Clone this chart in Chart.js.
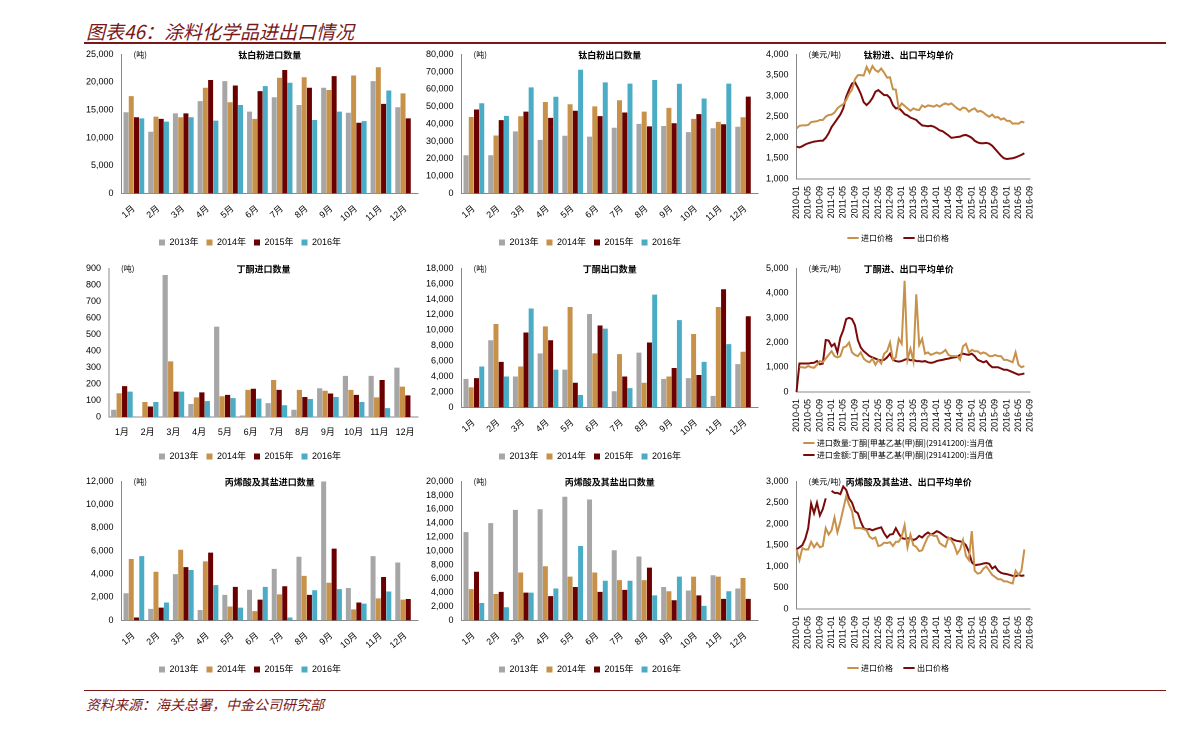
<!DOCTYPE html>
<html><head><meta charset="utf-8">
<script src="https://cdn.jsdelivr.net/npm/chart.js@4.4.0/dist/chart.umd.min.js"></script>
<style>
body{margin:0;background:#fff;width:1191px;height:733px;position:relative;overflow:hidden;font-family:"Liberation Sans","Noto Sans CJK SC",sans-serif}
.c{position:absolute}
#title{position:absolute;left:86px;top:17px;font-size:19px;font-style:italic;color:#7a1818;font-family:"Noto Sans CJK SC",sans-serif}
#l1{position:absolute;left:84px;top:42px;width:1082px;height:2px;background:#7a1818}
#l2{position:absolute;left:84px;top:690px;width:1082px;height:1px;background:#7a1818}
#src{position:absolute;left:86px;top:694px;font-size:14px;font-style:italic;color:#7a1818;font-family:"Noto Sans CJK SC",sans-serif}
</style></head><body>
<div id="title">图表46：涂料化学品进出口情况</div><div id="l1"></div>
<div id="l2"></div><div id="src">资料来源：海关总署，中金公司研究部</div>
<canvas id="p1" class="c"></canvas><canvas id="p2" class="c"></canvas><canvas id="p3" class="c"></canvas>
<canvas id="p4" class="c"></canvas><canvas id="p5" class="c"></canvas><canvas id="p6" class="c"></canvas>
<canvas id="p7" class="c"></canvas><canvas id="p8" class="c"></canvas><canvas id="p9" class="c"></canvas>
<script>
const months=['1月','2月','3月','4月','5月','6月','7月','8月','9月','10月','11月','12月'];
const years=['2013年','2014年','2015年','2016年'];
const barColors=['#a6a6a6','#c8914a','#6b0000','#4bacc6'];

const tio2Imp13=[14600,11100,14400,16600,20200,14700,17300,15900,19000,14500,20200,15500];
const tio2Imp14=[17500,13800,13700,19000,16400,13400,20800,20900,18600,21200,22700,18000];
const tio2Imp15=[13700,13400,14400,20400,19400,18400,22200,19000,21100,12700,16100,13500];
const tio2Imp16=[13500,12900,13700,13100,15900,19300,19900,13200,14700,13000,18500,null];

const tio2Exp13=[22000,22000,35700,30800,33200,32700,37800,40000,38800,35300,37500,38400];
const tio2Exp14=[44000,33300,44400,52600,51300,50100,53600,47100,49200,42900,41200,43800];
const tio2Exp15=[48300,42200,47100,43500,47600,44500,46600,38600,40400,45600,39800,55700];
const tio2Exp16=[51900,44600,61000,55600,71200,63900,63200,65300,63100,54600,63200,null];

const mekImp13=[45,5,860,80,548,10,85,45,175,250,250,300];
const mekImp14=[145,92,338,120,127,165,225,165,160,165,120,185];
const mekImp15=[188,65,155,150,135,172,165,122,143,135,225,132];
const mekImp16=[155,92,155,97,115,112,72,110,122,92,55,null];

const mekExp13=[3700,8700,4000,7000,4900,12100,2100,7100,3700,3800,1500,5600];
const mekExp14=[2600,10800,5300,10500,13000,7000,6900,3200,4000,9500,13000,7200];
const mekExp15=[3800,5900,9700,8700,3200,10600,4000,8400,5100,4200,15300,11800];
const mekExp16=[5300,4000,12800,4900,1600,10200,2500,14600,11300,5900,8200,null];

const acrImp13=[2350,1000,4000,900,2200,2650,4450,5500,12000,2800,5550,5000];
const acrImp14=[5300,4200,6100,5100,1200,800,2250,3850,3250,950,1900,1800];
const acrImp15=[250,1100,4600,5850,2900,1800,2950,2200,6200,1550,3750,1850];
const acrImp16=[5550,1550,4350,3050,1100,2900,250,2600,2700,1450,2500,null];

const acrExp13=[12700,14000,15900,16000,17800,17400,10100,9200,4800,4300,6500,4600];
const acrExp14=[4500,3800,6900,7800,6300,6900,5800,5800,4200,6300,6300,6100];
const acrExp15=[7000,4100,4000,3500,4800,4100,4400,7600,2900,3600,3100,3100];
const acrExp16=[2500,1900,4000,4600,10700,5700,5700,3600,6300,2100,4200,null];

const timeLabels=[];
for(let y=2010;y<=2016;y++)for(let m=1;m<=12;m++){if(y===2016&&m>9)break;timeLabels.push(y+'-'+String(m).padStart(2,'0'));}

const tio2PriceImp=[2220,2280,2290,2290,2300,2370,2380,2390,2420,2420,2500,2540,
2550,2600,2700,2760,2800,2900,3050,3150,3400,3500,3500,3490,
3700,3560,3720,3620,3580,3660,3560,3440,3450,3160,3150,2700,
2820,2760,2700,2640,2700,2670,2660,2770,2730,2770,2760,2740,
2780,2740,2790,2820,2790,2820,2760,2700,2660,2720,2700,2620,
2670,2700,2620,2640,2600,2540,2500,2550,2480,2490,2430,2460,
2400,2400,2330,2340,2330,2380,2360];
const tio2PriceExp=[1780,1760,1790,1830,1860,1880,1900,1910,1920,1920,1990,2100,
2250,2350,2450,2550,2700,2980,3150,3300,3330,3200,3050,2850,
2780,2850,2950,3100,3140,3080,3020,3020,2950,2780,2700,2710,
2640,2560,2530,2480,2450,2420,2350,2290,2280,2270,2280,2260,
2220,2170,2150,2100,2050,1990,2000,2010,2020,2050,2060,2030,
1990,1920,1880,1860,1860,1870,1850,1800,1720,1640,1560,1500,
1480,1490,1500,1520,1550,1580,1620];

const mekPriceImp=[null,1000,1000,980,1050,1000,980,1100,1250,1200,1350,1500,
1650,1450,1400,1450,1800,1850,2000,1600,1500,1450,1600,1350,
1250,1200,1350,1100,1300,1150,1550,1650,2000,1300,1400,2150,
1950,4500,1300,1750,1250,3950,1900,2150,1550,1600,1500,1550,
1600,1550,1600,1700,1500,1450,1450,1450,1300,1850,1950,1600,
1700,1650,1650,1550,1600,1550,1450,1450,1500,1450,1450,1300,
1300,1250,1200,1600,1100,1000,1050];
const mekPriceExp=[0,1150,1150,1150,1150,1170,1180,1250,1120,1150,2100,2080,
1850,1950,1600,2200,2500,2950,3000,2950,2700,2100,1800,1650,
1550,1450,1400,1350,1300,1280,1300,1400,1550,1300,1250,1230,
1250,1300,1350,1280,1300,1250,1250,1230,1250,1200,1180,1200,
1250,1280,1300,1330,1350,1380,1400,1420,1500,1550,1520,1500,
1550,1450,1300,1250,1200,1250,1100,1000,1000,1000,950,900,
900,850,800,750,700,720,750];

const acrPriceImp=[1400,1150,1430,1400,1400,1580,1450,1550,1450,1480,1900,1750,
1850,2150,1800,2050,2350,2650,2450,2300,1900,1900,1900,1880,
1850,1700,1650,1680,1480,1500,1560,1550,1570,1480,1580,1580,
1700,1970,1450,1750,1500,1460,1360,1380,1550,1700,1750,1720,
1720,1550,1500,1460,1680,1620,1500,1300,1400,1620,1250,1150,
1830,900,830,850,950,1000,900,800,750,700,700,650,
650,620,600,900,800,900,1400];
const acrPriceExp=[1400,1450,1500,1650,1900,2480,2250,2500,2200,2350,2600,null,
2780,2730,2730,2700,2880,2800,2600,2500,2300,2250,2050,1900,
1870,1880,1850,1880,1900,1920,1780,1680,1750,1760,1900,1770,
1670,1650,1660,1670,1620,1650,1720,1680,1750,1800,1750,1780,
1830,1800,1750,1700,1660,1660,1620,1600,1590,1570,1500,1350,
1100,1030,1040,1050,1070,1080,1060,950,1000,900,850,830,
820,800,780,770,800,780,790];

const FONT='"Liberation Sans","Noto Sans CJK SC",sans-serif';
Chart.defaults.font.family=FONT;Chart.defaults.font.size=9;Chart.defaults.color='#000';
Chart.defaults.animation=false;

const overlay={id:'ov',afterDraw(c,a,o){const ctx=c.ctx,ca=c.chartArea;ctx.save();ctx.fillStyle='#000';ctx.textBaseline='top';
ctx.font='8px "Noto Sans CJK SC"';ctx.textAlign='left';ctx.fillText(o.unit,ca.left+12,ca.top-4);
ctx.font='bold 9px "Noto Sans CJK SC"';ctx.textAlign='center';ctx.fillText(o.title,ca.left+(ca.right-ca.left)*o.tx,ca.top-4);ctx.restore();}};

function place(id,l,t,w,h){const e=document.getElementById(id);e.style.left=l+'px';e.style.top=t+'px';e.width=w;e.height=h;return e;}

function yAxis(max,step){return {min:0,max:max,grid:{display:false,drawTicks:true,tickLength:4,tickColor:'#888'},border:{color:'#888'},
 ticks:{stepSize:step,padding:4,callback:v=>v.toLocaleString('en-US')}};}

function bar(id,l,t,w,h,series,max,step,title){
 new Chart(place(id,l,t,w,h),{type:'bar',plugins:[overlay],
 data:{labels:months,datasets:series.map((d,i)=>({label:years[i],data:d,backgroundColor:barColors[i],categoryPercentage:0.85,barPercentage:0.95}))},
 options:{responsive:false,devicePixelRatio:2,layout:{padding:{top:6,right:4}},
  plugins:{ov:{unit:'(吨)',title:title,tx:0.5},tooltip:{enabled:false},
   legend:{position:'bottom',labels:{boxWidth:6,boxHeight:6,padding:8,font:{size:9}}}},
  scales:{x:{grid:{display:false,drawTicks:true,tickLength:4,tickColor:'#888'},border:{color:'#888'},ticks:{padding:6}},y:yAxis(max,step)}}});
}
function line(id,l,t,w,h,a,b,la,lb,min,max,step,title,legSize){
 new Chart(place(id,l,t,w,h),{type:'line',plugins:[overlay],
 data:{labels:timeLabels,datasets:[
  {label:la,data:a,borderColor:'#c8914a',backgroundColor:'#c8914a',borderWidth:2,pointRadius:0,spanGaps:false,tension:0},
  {label:lb,data:b,borderColor:'#7a0a0a',backgroundColor:'#7a0a0a',borderWidth:2,pointRadius:0,spanGaps:false,tension:0}]},
 options:{responsive:false,devicePixelRatio:2,layout:{padding:{top:6,right:8}},
  plugins:{ov:{unit:'(美元/吨)',title:title,tx:0.48},tooltip:{enabled:false},
   legend:{position:'bottom',labels:{usePointStyle:true,pointStyle:'line',boxWidth:20,padding:legSize?4:12,font:{size:8,family:'"Noto Sans CJK SC"'}}}},
  scales:{x:{grid:{display:false,drawTicks:true,tickLength:4,tickColor:'#888'},border:{color:'#888'},
    ticks:{autoSkip:false,maxRotation:90,minRotation:90,font:{size:9},callback:function(v,i){return i%4===0?timeLabels[i]:'';}}},
   y:Object.assign(yAxis(max,step),{min:min})}}});
}

bar('p1',82,45,340,212,[tio2Imp13,tio2Imp14,tio2Imp15,tio2Imp16],25000,5000,'钛白粉进口数量');
bar('p2',422,45,340,212,[tio2Exp13,tio2Exp14,tio2Exp15,tio2Exp16],80000,10000,'钛白粉出口数量');
line('p3',762,45,282,207,tio2PriceImp,tio2PriceExp,'进口价格','出口价格',1000,4000,500,'钛粉进、出口平均单价');
bar('p4',82,259,340,212,[mekImp13,mekImp14,mekImp15,mekImp16],900,100,'丁酮进口数量');
bar('p5',422,259,340,212,[mekExp13,mekExp14,mekExp15,mekExp16],18000,2000,'丁酮出口数量');
line('p6',762,259,282,210,mekPriceImp,mekPriceExp,'进口数量:丁酮[甲基乙基(甲)酮](29141200):当月值','进口金额:丁酮[甲基乙基(甲)酮](29141200):当月值',0,5000,500,'丁酮进、出口平均单价',true);
bar('p7',82,472,340,212,[acrImp13,acrImp14,acrImp15,acrImp16],12000,2000,'丙烯酸及其盐进口数量');
bar('p8',422,472,340,212,[acrExp13,acrExp14,acrExp15,acrExp16],20000,2000,'丙烯酸及其盐出口数量');
line('p9',762,472,282,210,acrPriceImp,acrPriceExp,'进口价格','出口价格',0,3000,500,'丙烯酸及其盐进、出口平均单价');
</script></body></html>
